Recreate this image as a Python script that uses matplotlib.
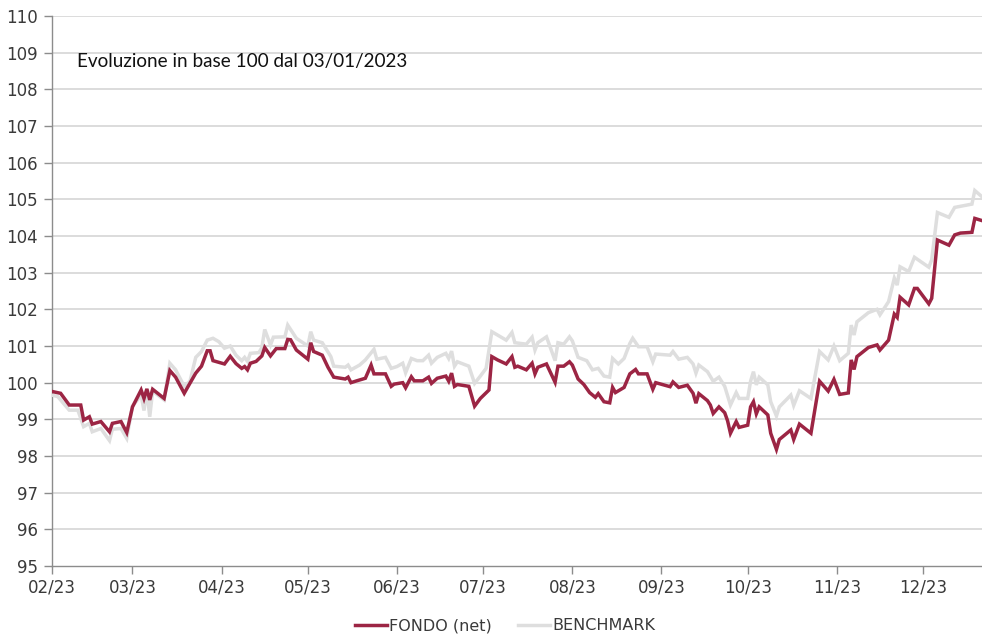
import matplotlib
matplotlib.use("Agg")
import matplotlib.pyplot as plt
import pandas as pd

# ---- data (days counted from 2023-02-01) ----
fund_days = [0, 3, 6, 10, 11, 13, 14, 17, 20, 21, 24, 26, 28, 31, 32, 33, 34, 35, 39, 41, 43, 46, 47, 50, 52, 54,
             55, 56, 60, 62, 64, 66, 67, 68, 69, 71, 73, 74, 76, 78, 81, 82, 83, 85, 89, 90, 91, 94, 96, 98, 102,
             103, 104, 106, 109, 111, 112, 116, 118, 119, 122, 123, 125, 126, 129, 131, 132, 134, 137, 138, 139,
             140, 141, 145, 147, 149, 152, 153, 155, 158, 160, 161, 162, 165, 167, 168, 169, 172, 175, 176, 178,
             180, 181, 183, 185, 187, 189, 190, 192, 194, 195, 196, 199, 201, 203, 204, 207, 209, 210, 215, 216,
             218, 221, 223, 224, 225, 228, 229, 230, 232, 234, 235, 236, 238, 239, 242, 243, 244, 245, 246, 249,
             250, 252, 253, 257, 258, 260, 264, 267, 270, 272, 274, 277, 278, 279, 280, 284, 287, 288, 291, 293,
             294, 295, 298, 300, 301, 305, 306, 308, 312, 314, 316, 320, 321, 323.5]
fund_vals = [99.76, 99.71, 99.39, 99.39, 98.98, 99.07, 98.87, 98.94, 98.66, 98.89, 98.94, 98.64, 99.34, 99.80,
             99.57, 99.83, 99.53, 99.82, 99.57, 100.33, 100.15, 99.71, 99.85, 100.26, 100.45, 100.87, 100.87,
             100.60, 100.51, 100.72, 100.52, 100.39, 100.44, 100.35, 100.53, 100.58, 100.73, 100.96, 100.73,
             100.93, 100.93, 101.18, 101.17, 100.89, 100.64, 101.09, 100.85, 100.75, 100.42, 100.15, 100.10,
             100.15, 100.00, 100.05, 100.12, 100.48, 100.24, 100.24, 99.90, 99.96, 100.00, 99.86, 100.16, 100.05,
             100.05, 100.15, 99.98, 100.12, 100.18, 100.04, 100.26, 99.90, 99.95, 99.90, 99.36, 99.57, 99.80,
             100.71, 100.62, 100.51, 100.71, 100.42, 100.45, 100.35, 100.53, 100.24, 100.42, 100.51, 100.01,
             100.45, 100.45, 100.57, 100.48, 100.10, 99.95, 99.73, 99.60, 99.70, 99.48, 99.45, 99.87, 99.73,
             99.87, 100.24, 100.36, 100.24, 100.24, 99.82, 100.00, 99.89, 100.02, 99.87, 99.93, 99.71, 99.44,
             99.70, 99.51, 99.39, 99.16, 99.34, 99.18, 98.96, 98.62, 98.94, 98.78, 98.84, 99.34, 99.48, 99.15,
             99.34, 99.12, 98.62, 98.18, 98.45, 98.71, 98.45, 98.87, 98.62, 100.04, 99.77, 100.09, 99.68, 99.72,
             100.62, 100.36, 100.71, 100.96, 101.03, 100.89, 101.16, 101.87, 101.78, 102.33, 102.12, 102.57,
             102.57, 102.15, 102.30, 103.89, 103.75, 104.03, 104.08, 104.10, 104.48, 104.42]

bench_days = [0, 2, 6, 9, 11, 13, 14, 17, 20, 21, 24, 26, 28, 31, 32, 33, 34, 35, 39, 41, 43, 46, 48, 50, 52, 54,
              56, 58, 60, 62, 64, 66, 67, 68, 69, 72, 73, 74, 76, 77, 81, 82, 85, 89, 90, 91, 94, 97, 98, 102,
              103, 104, 107, 109, 112, 113, 116, 118, 120, 122, 123, 125, 127, 129, 131, 132, 134, 137, 138, 139,
              140, 141, 145, 147, 149, 151, 153, 156, 158, 160, 161, 165, 167, 168, 169, 172, 175, 176, 178, 180,
              181, 183, 186, 188, 190, 192, 194, 195, 197, 199, 201, 202, 204, 207, 209, 210, 215, 216, 218, 221,
              223, 224, 225, 228, 230, 232, 234, 236, 238, 239, 242, 243, 244, 245, 246, 249, 250, 252, 253, 257,
              258, 260, 264, 267, 270, 272, 274, 277, 278, 279, 280, 284, 287, 288, 291, 293, 294, 295, 298, 300,
              305, 306, 308, 312, 314, 320, 321, 323.5]
bench_vals = [99.66, 99.62, 99.25, 99.25, 98.80, 98.89, 98.66, 98.75, 98.42, 98.73, 98.75, 98.48, 99.36, 99.66,
              99.24, 99.80, 99.07, 99.77, 99.53, 100.53, 100.35, 99.90, 100.04, 100.69, 100.85, 101.16, 101.21,
              101.12, 100.94, 101.00, 100.75, 100.60, 100.69, 100.58, 100.80, 100.82, 100.96, 101.45, 101.03,
              101.24, 101.25, 101.57, 101.21, 101.00, 101.39, 101.16, 101.09, 100.71, 100.45, 100.42, 100.48,
              100.35, 100.48, 100.62, 100.91, 100.64, 100.69, 100.39, 100.44, 100.53, 100.27, 100.66, 100.60,
              100.60, 100.75, 100.53, 100.69, 100.80, 100.66, 100.86, 100.45, 100.57, 100.45, 99.98, 100.18,
              100.39, 101.39, 101.25, 101.16, 101.37, 101.09, 101.05, 101.24, 100.89, 101.09, 101.25, 100.60,
              101.09, 101.05, 101.25, 101.14, 100.69, 100.60, 100.35, 100.39, 100.18, 100.15, 100.66, 100.51,
              100.66, 101.07, 101.21, 100.98, 100.98, 100.57, 100.78, 100.75, 100.85, 100.64, 100.69, 100.51,
              100.26, 100.48, 100.30, 100.04, 100.15, 99.90, 99.39, 99.73, 99.57, 99.57, 100.04, 100.30, 99.94,
              100.15, 99.94, 99.48, 99.09, 99.34, 99.66, 99.38, 99.78, 99.57, 100.85, 100.62, 101.00, 100.60,
              100.80, 101.57, 101.30, 101.66, 101.91, 102.00, 101.85, 102.21, 102.85, 102.66, 103.16, 103.03,
              103.42, 103.15, 103.35, 104.64, 104.51, 104.78, 104.87, 105.24, 105.07]

tick_labels = ["02/23", "03/23", "04/23", "05/23", "06/23", "07/23", "08/23", "09/23", "10/23", "11/23", "12/23"]
y_ticks = list(range(95, 111))
title_text = "Evoluzione in base 100 dal 03/01/2023"
series_names = ["FONDO (net)", "BENCHMARK"]

start = pd.Timestamp("2023-02-01")
fund_x = [start + pd.Timedelta(days=d) for d in fund_days]
bench_x = [start + pd.Timedelta(days=d) for d in bench_days]
tick_dates = pd.date_range("2023-02-01", periods=11, freq="MS")

RED = "#9c2544"
GRAY = "#dedede"
GRID = "#d9d9d9"
AX = "#8c8c8c"
TXT = "#3a3a3a"

plt.rcParams['font.family'] = ['Liberation Sans Narrow', 'DejaVu Sans']

fig = plt.figure(figsize=(9.82, 6.36), dpi=100)
ax = fig.add_axes([52/982, 70/636, 930/982, 550/636])

ax.plot(bench_x, bench_vals, color=GRAY, lw=2.5, solid_joinstyle='miter', label=series_names[1], zorder=3)
ax.plot(fund_x, fund_vals, color=RED, lw=2.5, solid_joinstyle='miter', label=series_names[0], zorder=4)

ax.set_ylim(95, 110)
ax.set_yticks(y_ticks)
ax.set_xlim(start, start + pd.Timedelta(days=323.5))
ax.set_xticks(tick_dates)
ax.set_xticklabels(tick_labels)

for y in y_ticks[1:]:
    ax.axhline(y, color=GRID, lw=1.3, zorder=1)

for s in ["top", "right"]:
    ax.spines[s].set_visible(False)
for s in ["left", "bottom"]:
    ax.spines[s].set_color(AX)
    ax.spines[s].set_linewidth(1.0)

ax.tick_params(axis='y', length=6, width=1, color=AX, pad=4, labelsize=12, labelcolor=TXT)
ax.tick_params(axis='x', length=6, width=1, color=AX, pad=3, labelsize=12, labelcolor=TXT)

ax.text(25/930, 0.918, title_text, transform=ax.transAxes, fontsize=13.6, family=['Lato', 'DejaVu Sans'],
        color="#111111", va='center', ha='left')

handles, labels = ax.get_legend_handles_labels()
fig.legend(handles[::-1], labels[::-1], loc='center', bbox_to_anchor=(505/982, 1 - 626/636), ncol=2,
           frameon=False, handlelength=2.0, handletextpad=0.15, columnspacing=1.6,
           labelcolor=TXT, prop={'family': ['Liberation Sans Narrow', 'DejaVu Sans'], 'size': 11.5})

fig.savefig("out.png", dpi=100)
